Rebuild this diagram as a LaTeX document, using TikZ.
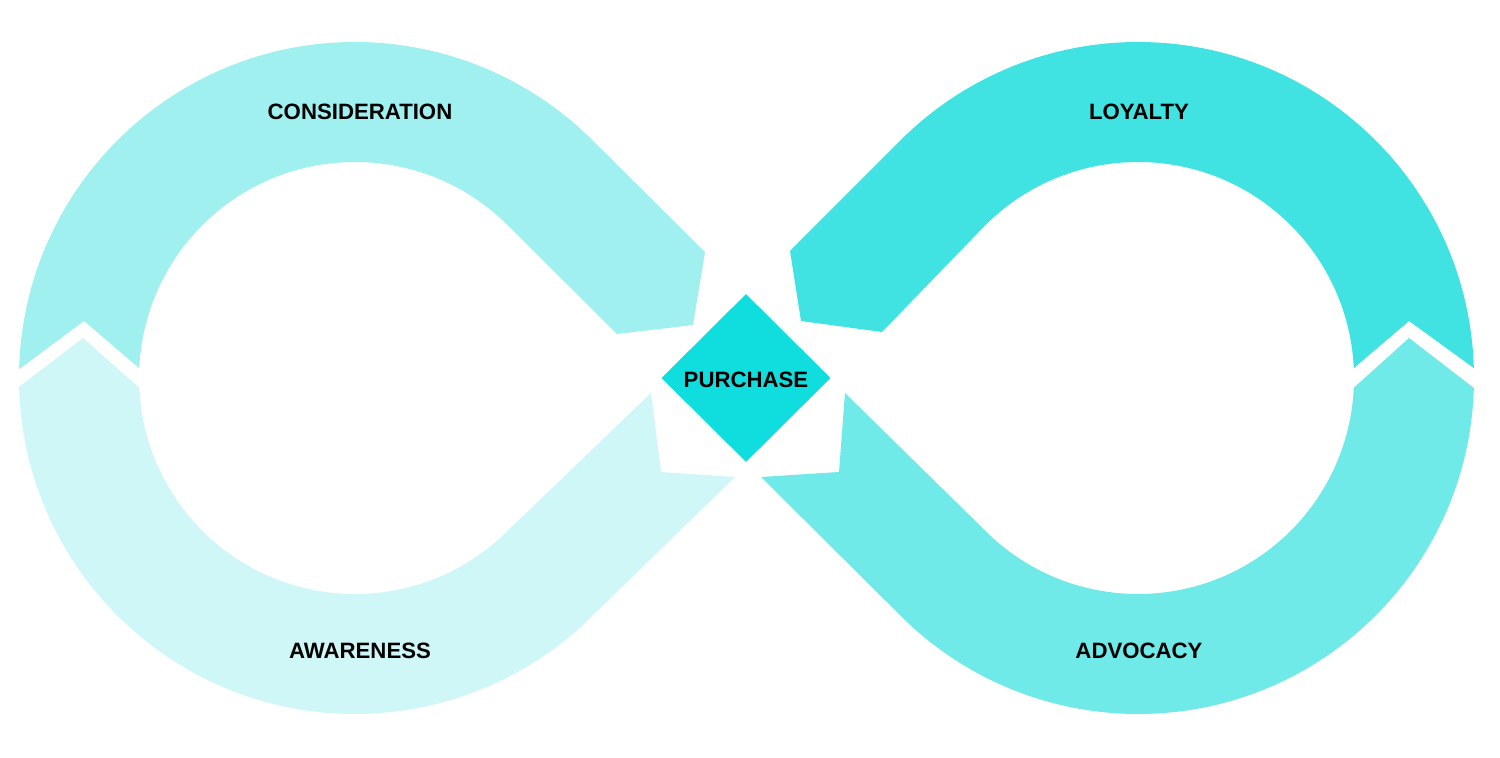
\documentclass[tikz,border=0pt]{standalone}
\usepackage{fontspec}
\setmainfont{Liberation Sans}
\usetikzlibrary{shapes.geometric,calc}
\definecolor{cConsid}{HTML}{A0F0F0}
\definecolor{cAware}{HTML}{CFF7F7}
\definecolor{cLoyal}{HTML}{40E2E2}
\definecolor{cAdvoc}{HTML}{70E9E9}
\definecolor{cPurch}{HTML}{10DEDE}
\tikzset{
  band/.style={draw=none},
  lbl/.style={font=\fontsize{22.2}{26}\selectfont\bfseries, text=black, inner sep=0pt}
}
\begin{document}
\begin{tikzpicture}[x=1pt,y=1pt]
\useasboundingbox (0,0) rectangle (1500,758);
\coordinate (L) at (355,380);
\coordinate (R) at (1138,380);
% Consideration (upper left)
\fill[cConsid] ($(L)+(178.5:336)$) arc[start angle=178.5, end angle=45, radius=336]
  -- (705,506) -- (693,433) -- (617,424)
  -- ($(L)+(45:216)$) arc[start angle=45, end angle=177.4, radius=216]
  -- (84,437) -- cycle;
% Awareness (lower left)
\fill[cAware] (83,420) -- ($(L)+(181.5:336)$) arc[start angle=181.5, end angle=315, radius=336]
  -- (735,281) -- (661,286) -- (651,365)
  -- ($(L)+(315:216)$) arc[start angle=315, end angle=182.6, radius=216]
  -- cycle;
% Loyalty (upper right)
\fill[cLoyal] (1409,437) -- ($(R)+(1.7:336)$) arc[start angle=1.7, end angle=135, radius=336]
  -- (790,507) -- (801,437) -- (882,426)
  -- ($(R)+(135:216)$) arc[start angle=135, end angle=2.6, radius=216]
  -- cycle;
% Advocacy (lower right)
\fill[cAdvoc] (1409,420) -- ($(R)+(-1.7:336)$) arc[start angle=-1.7, end angle=-135, radius=336]
  -- (761,281) -- (839,286) -- (845,365)
  -- ($(R)+(-135:216)$) arc[start angle=-135, end angle=-2.6, radius=216]
  -- cycle;
% Purchase diamond
\node[diamond, fill=cPurch, minimum width=169pt, minimum height=168pt, inner sep=0pt] (purchase) at (746,380) {};
\node[lbl] (purchasetxt) at (746,378) {PURCHASE};
% Labels
\node[lbl] (consid) at (360,646) {CONSIDERATION};
\node[lbl] (loyal) at (1139,646) {LOYALTY};
\node[lbl] (aware) at (360,107) {AWARENESS};
\node[lbl] (advoc) at (1139,107) {ADVOCACY};
\end{tikzpicture}
\end{document}
